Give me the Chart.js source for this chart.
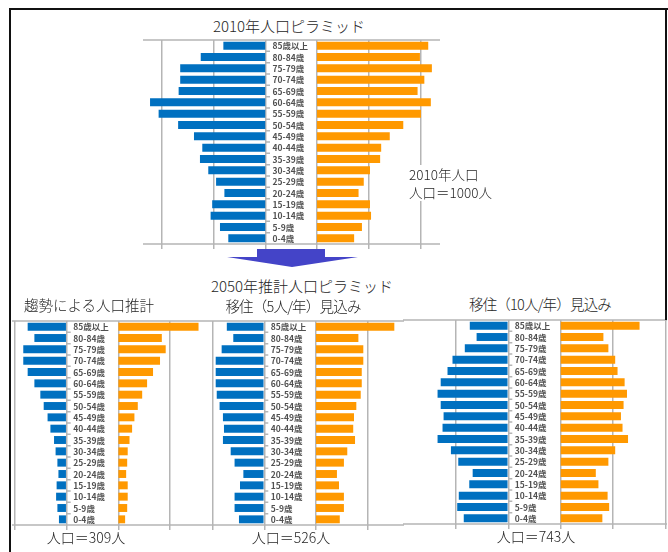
<!DOCTYPE html>
<html>
<head>
<meta charset="utf-8">
<script src="https://cdn.jsdelivr.net/npm/chart.js@4.4.1/dist/chart.umd.min.js"></script>
<style>
body { margin: 0; background: #fff; }
#page { position: relative; width: 668px; height: 552px; overflow: hidden;
        font-family: "Noto Sans CJK JP", "Noto Sans", sans-serif; font-weight: 300; color: #262626; }
.t { position: absolute; white-space: nowrap; transform: translate(-50%, -50%); line-height: 1; }
.tight { letter-spacing: -0.8px; }
canvas { position: absolute; }
.rule { position: absolute; background: #111; }
#note { position: absolute; left: 409px; top: 165px; background: #fff; font-size: 13.5px; line-height: 18px; padding-right: 4px; }
#arrow { position: absolute; left: 0; top: 0; }
</style>
</head>
<body>
<div id="page">
  <div class="rule" style="left:9px;top:8px;width:659px;height:2px"></div>
  <div class="rule" style="left:9px;top:8px;width:2px;height:544px"></div>
  <div class="rule" style="left:665px;top:8px;width:2px;height:312px"></div>

  <div class="t" style="left:289px;top:25px;font-size:15px">2010年人口ピラミッド</div>
  <div class="t" style="left:302px;top:285px;font-size:15px">2050年推計人口ピラミッド</div>
  <div class="t" style="left:89px;top:305px;font-size:14.5px">趨勢による人口推計</div>
  <div class="t tight" style="left:293px;top:306px;font-size:14.5px">移住（5人/年）見込み</div>
  <div class="t tight" style="left:540px;top:304px;font-size:14.5px">移住（10人/年）見込み</div>
  <div class="t" style="left:86px;top:537px;font-size:14px">人口＝309人</div>
  <div class="t" style="left:291px;top:537px;font-size:14px">人口＝526人</div>
  <div class="t" style="left:536px;top:536px;font-size:14px">人口＝743人</div>

  <svg id="arrow" width="668" height="300">
    <polygon points="257,249 325,249 325,257 358,257 292,267 227,257 257,257" fill="#4444c8"/>
  </svg>
</div>

<script>
// age groups, top row first
const ageLabels = ['85歳以上', '80-84歳', '75-79歳', '70-74歳', '65-69歳', '60-64歳',
  '55-59歳', '50-54歳', '45-49歳', '40-44歳', '35-39歳', '30-34歳',
  '25-29歳', '20-24歳', '15-19歳', '10-14歳', '5-9歳', '0-4歳'];

// 2010 (total 1000)
const male2010 = [16.4, 25.1, 33.0, 33.0, 33.6, 44.6, 41.3, 33.8, 27.7, 24.5, 25.4, 22.2, 19.2, 16.0, 20.7, 21.3, 17.7, 14.5];
const female2010 = [42.8, 39.6, 44.2, 41.3, 38.7, 43.8, 40.0, 33.2, 28.0, 24.7, 24.3, 20.4, 18.0, 16.0, 20.4, 20.8, 17.3, 14.3];

// 2050 trend (total 309)
const maleTrend = [15.1, 12.5, 16.8, 16.8, 15.1, 12.5, 10.2, 8.9, 7.4, 6.3, 4.9, 4.3, 3.6, 3.2, 3.9, 4.1, 3.6, 3.0];
const femaleTrend = [31.0, 16.8, 18.3, 16.1, 13.4, 11.1, 9.2, 7.5, 6.2, 5.3, 4.3, 3.6, 3.4, 3.0, 3.6, 3.6, 3.4, 2.6];

// 2050 with 5 movers/year (total 526)
const male5 = [14.5, 12.0, 16.5, 18.8, 18.8, 18.8, 18.4, 17.3, 16.0, 15.6, 16.0, 13.0, 11.5, 8.1, 9.4, 11.5, 11.5, 9.8];
const female5 = [30.3, 16.4, 18.3, 18.3, 17.7, 17.7, 17.3, 15.6, 14.7, 14.4, 15.1, 12.1, 10.8, 8.1, 8.9, 10.8, 10.8, 9.2];

// 2050 with 10 movers/year (total 743)
const male10 = [14.7, 12.1, 16.6, 21.3, 23.2, 25.8, 27.0, 25.8, 24.7, 25.1, 27.0, 21.9, 19.1, 13.6, 14.9, 18.9, 19.5, 17.0];
const female10 = [30.1, 16.3, 18.2, 20.8, 21.7, 24.4, 25.3, 24.0, 23.0, 23.6, 25.7, 20.8, 18.2, 13.4, 14.4, 17.9, 18.5, 15.9];

const gridSteps = [0, 20, 40];

const MALE = '#0070c0';
const FEMALE = '#ff9900';
const GRID = '#b5b5b5';

// plot boxes on the page (px), zero = male baseline, scale = px per person
const pyramids = [
  { male: male2010, female: female2010, left: 143, right: 440, top: 40, bottom: 244, zero: 266, scale: 2.6, gap: 19.6 },
  { male: maleTrend, female: femaleTrend, left: 12, right: 203, top: 320.5, bottom: 524.5, zero: 66.7, scale: 2.585, gap: 20 },
  { male: male5, female: female5, left: 203, right: 404, top: 320.5, bottom: 524.5, zero: 264.3, scale: 2.585, gap: 20 },
  { male: male10, female: female10, left: 403, right: 667, top: 319.5, bottom: 523.5, zero: 508.3, scale: 2.62, gap: 20 }
];

// top/bottom rules, small category ticks and the age labels in the middle
const pyramidDecor = {
  id: 'pyramidDecor',
  beforeDatasetsDraw(chart) {
    const { ctx, chartArea: a, scales: { x } } = chart;
    ctx.save();
    ctx.strokeStyle = GRID;
    ctx.lineWidth = 1.5;
    ctx.beginPath();
    ctx.moveTo(a.left, a.top); ctx.lineTo(a.right, a.top);
    ctx.moveTo(a.left, a.bottom); ctx.lineTo(a.right, a.bottom);
    const x0 = x.getPixelForValue(0);
    const step = (a.bottom - a.top) / ageLabels.length;
    for (let i = 1; i < ageLabels.length; i++) {
      ctx.moveTo(x0, a.top + i * step); ctx.lineTo(x0 + 4, a.top + i * step);
    }
    ctx.stroke();
    ctx.restore();
  },
  afterDatasetsDraw(chart) {
    const { ctx, scales: { x, y } } = chart;
    ctx.save();
    ctx.font = 'bold 8.5px "Noto Sans CJK JP"';
    ctx.fillStyle = '#505050';
    ctx.textBaseline = 'middle';
    const lx = x.getPixelForValue(0) + 6.5;
    ageLabels.forEach((lab, i) => ctx.fillText(lab, lx, y.getPixelForValue(i) + 0.5));
    ctx.restore();
  }
};

function makePyramid(p) {
  const page = document.getElementById('page');
  const tick = 5, padTop = 2;
  const canvas = document.createElement('canvas');
  canvas.width = p.right - p.left;
  canvas.height = p.bottom - p.top + tick + padTop;
  canvas.style.left = p.left + 'px';
  canvas.style.top = (p.top - padTop) + 'px';
  page.insertBefore(canvas, page.firstChild);

  const min = (p.left - p.zero) / p.scale;
  const max = (p.right - p.zero) / p.scale;
  const bar = { grouped: false, barPercentage: 0.7, categoryPercentage: 1, borderWidth: 0 };

  new Chart(canvas, {
    type: 'bar',
    data: {
      labels: ageLabels,
      datasets: [
        { ...bar, data: p.male.map(v => [-v, 0]), backgroundColor: MALE },
        { ...bar, data: p.female.map(v => [p.gap, p.gap + v]), backgroundColor: FEMALE }
      ]
    },
    options: {
      indexAxis: 'y',
      responsive: false,
      animation: false,
      events: [],
      layout: { padding: { top: padTop, left: 0, right: 0, bottom: 0 } },
      plugins: { legend: { display: false }, tooltip: { enabled: false } },
      scales: {
        x: {
          min, max,
          ticks: { display: false },
          border: { display: false },
          grid: { color: GRID, lineWidth: 1.5, tickLength: tick },
          afterBuildTicks: (s) => {
            const vals = [];
            gridSteps.forEach(v => { vals.push(-v || 0); vals.push(p.gap + v); });
            s.ticks = vals.filter(v => v > min + 0.3 && v < max - 0.3)
              .sort((a, b) => a - b).map(v => ({ value: v }));
          }
        },
        y: { display: false }
      }
    },
    plugins: [pyramidDecor]
  });
}

pyramids.forEach(makePyramid);
</script>

<div id="note" style="display:none"></div>
<script>
  // the 2010 note sits on a white box over the grid
  const note = document.getElementById('note');
  note.innerHTML = '2010年人口<br>人口＝1000人';
  note.style.display = 'block';
  document.getElementById('page').appendChild(note);
</script>
</body>
</html>
